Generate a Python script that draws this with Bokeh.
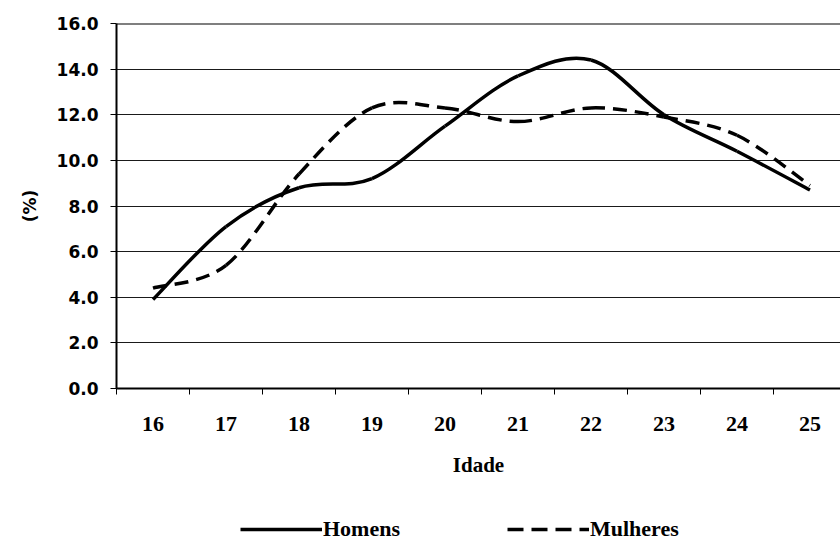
from bokeh.plotting import figure
from bokeh.layouts import column
from bokeh.models import (FixedTicker, NumeralTickFormatter, Legend, LegendItem,
                          ColumnDataSource, Range1d, Span)
from bokeh.embed import file_html
from bokeh.resources import INLINE

# ---- data ----
idade = [16, 17, 18, 19, 20, 21, 22, 23, 24, 25]
homens = [3.9, 7.1, 8.8, 9.2, 11.5, 13.7, 14.4, 12.0, 10.4, 8.7]
mulheres = [4.4, 5.4, 9.4, 12.3, 12.3, 11.7, 12.3, 11.9, 11.1, 8.9]
y_ticks = [0, 2, 4, 6, 8, 10, 12, 14, 16]
y_label = "(%)"
x_label = "Idade"
series_names = ["Homens", "Mulheres"]


def smooth(xs, ys):
    """Bezier control points (Catmull-Rom style, like a spreadsheet 'smoothed line')."""
    n = len(xs)
    d = dict(x0=[], y0=[], x1=[], y1=[], cx0=[], cy0=[], cx1=[], cy1=[])
    for i in range(n - 1):
        xm, ym = (xs[i - 1], ys[i - 1]) if i > 0 else (xs[i], ys[i])
        xp, yp = (xs[i + 2], ys[i + 2]) if i + 2 < n else (xs[i + 1], ys[i + 1])
        d["x0"].append(xs[i]); d["y0"].append(ys[i])
        d["x1"].append(xs[i + 1]); d["y1"].append(ys[i + 1])
        d["cx0"].append(xs[i] + (xs[i + 1] - xm) / 6.0)
        d["cy0"].append(ys[i] + (ys[i + 1] - ym) / 6.0)
        d["cx1"].append(xs[i + 1] - (xp - xs[i]) / 6.0)
        d["cy1"].append(ys[i + 1] - (yp - ys[i]) / 6.0)
    return ColumnDataSource(d)


W = 840
H_MAIN, H_LEG = 506, 36
LEFT, TOP = 116, 23
BOTTOM = H_MAIN - 388
cat_px = 73.0
frame_w = W - LEFT

p = figure(width=W, height=H_MAIN, output_backend="svg", toolbar_location=None,
           x_range=Range1d(idade[0] - 0.5, idade[0] - 0.5 + frame_w / cat_px),
           y_range=Range1d(y_ticks[0], y_ticks[-1]),
           min_border_left=LEFT, min_border_right=0, min_border_top=TOP,
           min_border_bottom=BOTTOM, outline_line_color=None,
           background_fill_color="white", border_fill_color="white")

# x axis: ticks between categories, labels at centres
p.xaxis.ticker = FixedTicker(ticks=idade,
                             minor_ticks=[a - 0.5 for a in idade] + [idade[-1] + 0.5])
p.xaxis.major_tick_line_color = None
p.xaxis.minor_tick_line_color = "black"
p.xaxis.minor_tick_out = 6
p.xaxis.minor_tick_in = 0
p.xaxis.minor_tick_line_width = 1
p.xaxis.axis_line_width = 2
p.xaxis.axis_line_color = "black"
p.xaxis.major_label_standoff = 22
p.xaxis.major_label_text_font = "Liberation Serif"
p.xaxis.major_label_text_font_style = "bold"
p.xaxis.major_label_text_font_size = "22px"
p.xaxis.major_label_text_color = "black"
p.xaxis.axis_label = x_label
p.xaxis.axis_label_standoff = 19
p.xaxis.axis_label_text_font = "Liberation Serif"
p.xaxis.axis_label_text_font_style = "bold"
p.xaxis.axis_label_text_font_size = "21px"
p.xaxis.axis_label_text_color = "black"

# y axis
p.yaxis.ticker = FixedTicker(ticks=y_ticks, minor_ticks=[])
p.yaxis.formatter = NumeralTickFormatter(format="0.0")
p.yaxis.major_tick_out = 6
p.yaxis.major_tick_in = 0
p.yaxis.major_tick_line_color = "black"
p.yaxis.axis_line_width = 2
p.yaxis.axis_line_color = "black"
p.yaxis.major_label_standoff = 12
p.yaxis.major_label_text_font = "DejaVu Sans"
p.yaxis.major_label_text_font_style = "bold"
p.yaxis.major_label_text_font_size = "17px"
p.yaxis.major_label_text_color = "black"
p.yaxis.axis_label = y_label
p.yaxis.axis_label_standoff = 14
p.yaxis.axis_label_text_font = "DejaVu Sans"
p.yaxis.axis_label_text_font_style = "bold"
p.yaxis.axis_label_text_font_size = "17px"
p.yaxis.axis_label_text_color = "black"

p.xgrid.visible = False
p.ygrid.grid_line_color = "#1a1a1a"
p.ygrid.grid_line_width = 1
p.add_layout(Span(location=y_ticks[-1], dimension="width", line_color="black", line_width=2))

# series
p.bezier(x0="x0", y0="y0", x1="x1", y1="y1", cx0="cx0", cy0="cy0", cx1="cx1", cy1="cy1",
         source=smooth(idade, homens), line_color="black", line_width=3.5)
p.bezier(x0="x0", y0="y0", x1="x1", y1="y1", cx0="cx0", cy0="cy0", cx1="cx1", cy1="cy1",
         source=smooth(idade, mulheres), line_color="black", line_width=3.5,
         line_dash="14 8")

# ---- legend strip under the chart ----
q = figure(width=W, height=H_LEG, output_backend="svg", toolbar_location=None,
           x_range=Range1d(0, 1), y_range=Range1d(0, 1),
           min_border=0, outline_line_color=None,
           background_fill_color="white", border_fill_color="white")
q.axis.visible = False
q.grid.visible = False
l1 = q.line(x=idade, y=homens, line_color="black", line_width=3.5, visible=False)
l2 = q.line(x=idade, y=mulheres, line_color="black", line_width=3.5,
            line_dash="16 8", visible=False)
legend = Legend(items=[LegendItem(label=series_names[0], renderers=[l1]),
                       LegendItem(label=series_names[1], renderers=[l2])],
                orientation="horizontal", location=(124, 0),
                padding=0, margin=0, spacing=107, glyph_width=82, glyph_height=20,
                label_standoff=1, border_line_color=None, background_fill_alpha=0,
                label_text_font="Liberation Serif", label_text_font_style="bold",
                label_text_font_size="22px", label_text_color="black")
q.add_layout(legend, "center")

open("out.html", "w").write(file_html(column(p, q, spacing=0), INLINE))
